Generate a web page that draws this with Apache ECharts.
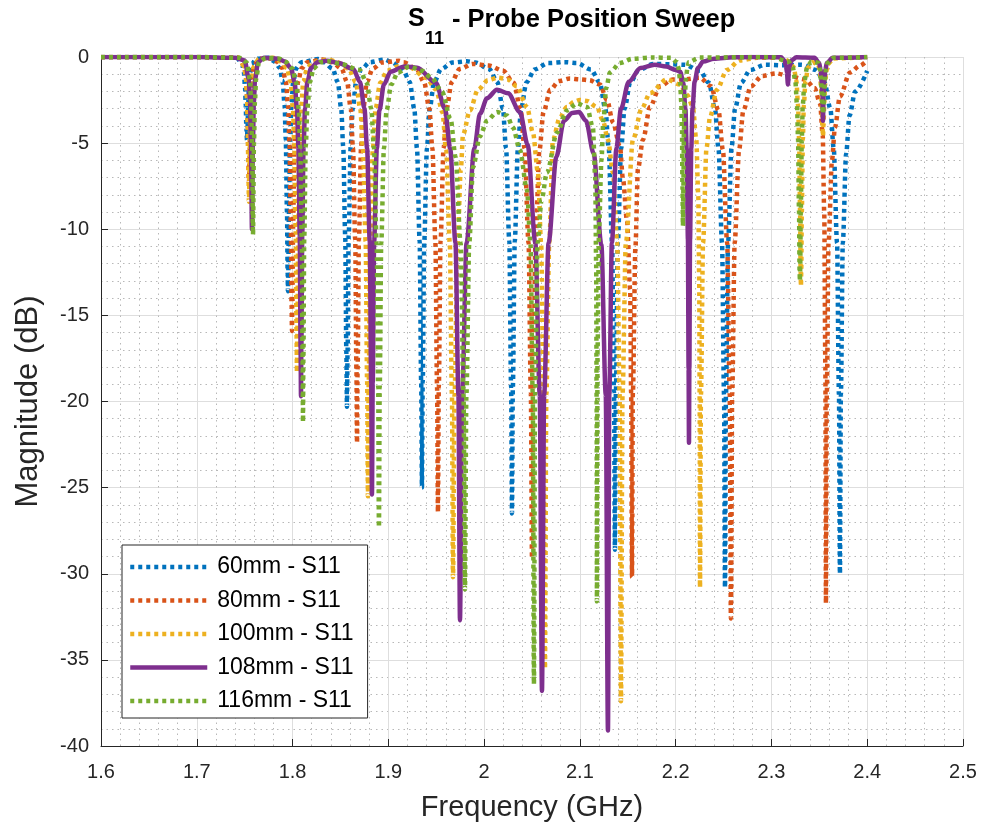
<!DOCTYPE html>
<html><head><meta charset="utf-8">
<script src="https://cdn.jsdelivr.net/npm/echarts/dist/echarts.min.js"></script>
<style>html,body{margin:0;padding:0;background:#fff}#c{width:986px;height:832px}</style>
</head><body><div id="c"></div>
<script>
const seriesNames = ['60mm - S11','80mm - S11','100mm - S11','108mm - S11','116mm - S11'];
const seriesColors = ['#0072BD','#D95319','#EDB120','#7E2F8E','#77AC30'];

const s60 = [[1.6,0],[1.7,0],[1.742,-0.05],
[1.7474,-0.42],[1.7492,-0.9],[1.7504,-1.77],[1.7511,-2.76],[1.7518,-4.1],[1.7524,-4.8],[1.753,-4.1],[1.7537,-2.76],[1.7544,-1.77],[1.7556,-0.9],[1.7574,-0.42],[1.762,-0.1],[1.775,-0.05],
[1.7812,-0.26],[1.7865,-0.62],[1.7896,-1.37],[1.7917,-2.8],[1.7929,-4.8],[1.7942,-9.0],[1.7949,-12.6],[1.7952,-13.6],[1.7955,-12.6],[1.7962,-9.0],[1.7975,-4.8],[1.7987,-2.8],[1.8008,-1.4],[1.8039,-0.65],[1.8092,-0.3],
[1.8266,-0.12],
[1.8328,-0.3],[1.8418,-0.68],[1.8472,-1.45],[1.8508,-3.0],[1.8529,-5.2],[1.855,-10.4],[1.8562,-17.2],[1.8568,-20.3],[1.8574,-17.2],[1.8586,-10.4],[1.8607,-5.2],[1.8628,-3.0],[1.8664,-1.45],[1.8718,-0.7],[1.8808,-0.3],
[1.8965,-0.15],
[1.9031,-0.3],[1.9151,-0.7],[1.9223,-1.45],[1.9271,-3.0],[1.9299,-5.3],[1.9327,-10.7],[1.9343,-18.9],[1.9351,-25.0],[1.9359,-18.9],[1.9375,-10.7],[1.9403,-5.3],[1.9431,-3.0],[1.9479,-1.45],[1.9551,-0.7],[1.9671,-0.32],
[1.982,-0.25],
[1.9911,-0.32],[2.0054,-0.7],[2.0139,-1.47],[2.0196,-3.0],[2.0229,-5.3],[2.0263,-10.7],[2.0282,-19.2],[2.0291,-26.5],[2.03,-19.2],[2.032,-10.7],[2.0353,-5.3],[2.0386,-3.0],[2.0443,-1.47],[2.0529,-0.72],[2.0671,-0.35],
[2.0844,-0.3],
[2.0966,-0.35],[2.1116,-0.72],[2.1206,-1.47],[2.1266,-3.0],[2.1301,-5.3],[2.1336,-10.8],[2.1356,-19.4],[2.1366,-28.6],[2.1376,-19.4],[2.1396,-10.8],[2.1431,-5.3],[2.1466,-3.0],[2.1526,-1.47],[2.1616,-0.75],[2.1766,-0.4],
[2.196,-0.42],
[2.2095,-0.45],[2.2253,-0.8],[2.2347,-1.5],[2.241,-3.0],[2.2447,-5.3],[2.2484,-10.8],[2.2505,-19.6],[2.2515,-30.8],[2.2525,-19.6],[2.2547,-10.8],[2.2583,-5.3],[2.262,-3.0],[2.2683,-1.5],[2.2778,-0.75],[2.2935,-0.45],
[2.312,-0.48],
[2.3315,-0.45],[2.3465,-0.75],[2.3555,-1.5],[2.3615,-3.0],[2.365,-5.3],[2.3685,-10.8],[2.3705,-19.6],[2.3715,-30.0],[2.3725,-19.6],[2.3745,-10.8],[2.378,-5.6],[2.3815,-3.4],[2.3875,-2.0],[2.4,-0.8]];

const s80 = [[1.6,0],[1.7,0],[1.744,-0.05],
[1.7495,-0.52],[1.7513,-1.13],[1.7525,-2.27],[1.7532,-3.69],[1.7539,-5.97],[1.7545,-7.3],[1.7551,-5.97],[1.7558,-3.69],[1.7565,-2.27],[1.7577,-1.13],[1.7595,-0.52],[1.765,-0.1],[1.778,-0.08],
[1.7834,-0.26],[1.7894,-0.64],[1.793,-1.43],[1.7954,-2.9],[1.7968,-5.1],[1.7982,-9.7],[1.799,-14.5],[1.7994,-15.9],[1.7998,-14.5],[1.8006,-9.7],[1.802,-5.1],[1.8034,-2.9],[1.8058,-1.43],[1.8094,-0.66],[1.8154,-0.3],
[1.831,-0.15],
[1.8413,-0.3],[1.8511,-0.66],[1.8569,-1.45],[1.8608,-3.0],[1.8631,-5.3],[1.8654,-10.6],[1.8667,-18.1],[1.8673,-22.4],[1.8679,-18.1],[1.8693,-10.6],[1.8715,-5.3],[1.8738,-3.0],[1.8777,-1.45],[1.8836,-0.68],[1.8933,-0.32],
[1.911,-0.22],
[1.9158,-0.3],[1.9293,-0.68],[1.9374,-1.47],[1.9428,-3.0],[1.946,-5.3],[1.9491,-10.7],[1.9509,-19.2],[1.9518,-26.4],[1.9527,-19.2],[1.9545,-10.7],[1.9577,-5.3],[1.9608,-3.0],[1.9662,-1.47],[1.9743,-0.7],
[1.988,-0.4],
[2.005,-0.5],[2.02,-0.8],[2.0308,-1.5],[2.038,-3.0],[2.0422,-5.3],[2.0464,-10.8],[2.0488,-19.5],[2.05,-29.1],[2.0512,-19.5],[2.0536,-10.8],[2.0578,-5.4],[2.062,-3.2],[2.0692,-1.9],[2.078,-1.4],
[2.0896,-1.25],[2.1,-1.3],
[2.11,-1.35],[2.121,-1.6],[2.1283,-2.5],[2.1346,-3.8],[2.1418,-5.2],[2.145,-7.1],[2.1492,-9.5],[2.1525,-13.5],[2.1535,-19.5],[2.1544,-30.2],[2.1553,-19.5],[2.158,-11],[2.1606,-6.5],[2.1659,-4.8],[2.1732,-2.9],[2.1836,-1.7],
[2.197,-1.3],[2.21,-1.3],
[2.2252,-1.2],[2.2369,-1.7],[2.2447,-3.1],[2.2493,-5.4],[2.2538,-10.8],[2.2564,-19.6],[2.2577,-32.6],[2.259,-19.6],[2.2616,-10.8],[2.2662,-5.4],[2.2707,-3.1],[2.2785,-1.7],[2.2902,-1.1],
[2.305,-0.95],[2.318,-1.1],
[2.335,-1.3],[2.345,-1.8],[2.3508,-2.7],[2.3535,-4.5],[2.3551,-9],[2.3563,-18],[2.3569,-31.7],[2.3578,-19.5],[2.3596,-10.8],[2.3632,-6],[2.3663,-4.1],[2.3715,-2.3],[2.382,-0.9],[2.3924,-0.5],[2.4,-0.2]];

const s100 = [[1.6,0],[1.7,0],[1.744,-0.05],
[1.7495,-0.55],[1.7513,-1.19],[1.7525,-2.42],[1.7532,-3.99],[1.7539,-6.68],[1.7545,-8.4],[1.7551,-6.68],[1.7558,-3.99],[1.7565,-2.42],[1.7577,-1.19],[1.7595,-0.55],[1.765,-0.1],[1.78,-0.05],
[1.7878,-0.26],[1.7941,-0.64],[1.7979,-1.43],[1.8004,-3.0],[1.8019,-5.2],[1.8033,-10.2],[1.8042,-16.1],[1.8046,-18.3],[1.805,-16.1],[1.8059,-10.2],[1.8073,-5.2],[1.8088,-3.0],[1.8113,-1.43],[1.8151,-0.66],[1.8214,-0.3],
[1.838,-0.15],
[1.8467,-0.3],[1.8587,-0.68],[1.8659,-1.45],[1.8707,-3.0],[1.8735,-5.3],[1.8763,-10.7],[1.8779,-18.9],[1.8787,-25.5],[1.8795,-18.9],[1.8811,-10.7],[1.8839,-5.3],[1.8867,-3.0],[1.8915,-1.5],[1.8987,-0.8],[1.91,-0.55],
[1.922,-0.6],
[1.9395,-1.2],[1.9499,-1.9],[1.9565,-3.2],[1.9603,-5.4],[1.9642,-10.8],[1.9664,-19.6],[1.9675,-30.2],[1.9691,-19.6],[1.9723,-10.8],[1.9757,-6.5],[1.978,-4.5],[1.9852,-3.1],[1.9936,-1.9],[2.004,-1.35],
[2.0145,-1.2],
[2.0245,-1.3],[2.0343,-1.7],[2.0447,-2.9],[2.051,-4.4],[2.0562,-6.7],[2.0595,-10.8],[2.062,-19.6],[2.0635,-35.5],[2.065,-19.6],[2.068,-10.8],[2.0718,-4.8],[2.0792,-3.5],[2.0865,-2.9],[2.094,-2.6],
[2.1,-2.5],
[2.1074,-2.55],[2.1178,-2.9],[2.1241,-3.7],[2.1293,-4.8],[2.1345,-6.7],[2.139,-10.8],[2.1415,-19.6],[2.1429,-37.4],[2.1445,-19.6],[2.148,-10.8],[2.1554,-4.8],[2.1645,-3.0],[2.1732,-2.1],
[2.1909,-1.3],
[2.2045,-1.6],[2.212,-2.2],[2.218,-2.9],[2.2215,-4.8],[2.2236,-8],[2.2246,-13],[2.2251,-20],[2.2254,-30.8],[2.2264,-19.6],[2.2286,-10.8],[2.2322,-5.3],[2.2358,-3.5],[2.2431,-1.9],[2.2535,-0.75],[2.2671,-0.2],[2.285,-0.05],[2.31,-0.05],
[2.3188,-0.26],[2.3233,-0.6],[2.326,-1.37],[2.3278,-2.8],[2.3289,-4.8],[2.3299,-9.0],[2.3305,-12.5],[2.3308,-13.3],[2.3311,-12.5],[2.3317,-9.0],[2.3328,-4.8],[2.3338,-2.8],[2.3356,-1.37],[2.3383,-0.6],[2.3428,-0.3],
[2.3488,-0.41],[2.3506,-0.88],[2.3518,-1.72],[2.3525,-2.67],[2.3532,-3.97],[2.3538,-4.6],[2.3544,-3.97],[2.3551,-2.67],[2.3558,-1.72],[2.357,-0.88],[2.3588,-0.41],[2.365,-0.08],[2.4,0]];

const s108 = [[1.6,0],[1.7,0],[1.74,-0.05],[1.75,-0.2],
[1.7544,-1.3],[1.7556,-2.6],[1.7566,-5],[1.7576,-10],[1.7586,-5],[1.7596,-2.6],[1.7608,-1.3],[1.764,-0.3],[1.77,-0.05],
[1.785,-0.1],[1.792,-0.26],[1.7983,-0.64],[1.8021,-1.43],[1.8046,-3.0],[1.8061,-5.2],[1.8075,-10.3],[1.8084,-16.9],[1.8088,-19.7],[1.8092,-16.9],[1.8101,-10.3],[1.8115,-5.2],[1.813,-3.0],[1.8155,-1.43],[1.8193,-0.64],
[1.826,-0.3],[1.836,-0.22],[1.848,-0.35],
[1.8634,-0.7],[1.8704,-1.45],[1.8751,-3.0],[1.8778,-5.3],[1.8806,-10.7],[1.8821,-18.9],[1.8829,-25.4],[1.8837,-18.9],[1.8852,-10.7],[1.888,-5.3],[1.8907,-3.1],[1.8954,-1.6],[1.9024,-0.85],
[1.917,-0.55],[1.93,-0.62],
[1.9497,-1.5],[1.9591,-3.0],[1.9646,-5.3],[1.9701,-10.8],[1.9732,-19.6],[1.9748,-32.7],[1.9771,-19.6],[1.9817,-10.8],[1.9898,-5.3],[1.9957,-3.3],
[2.003,-2.4],[2.0134,-1.9],[2.025,-2.1],
[2.0374,-3.2],[2.0455,-5.1],[2.0535,-10.8],[2.0581,-19.6],[2.0604,-36.8],[2.0627,-19.6],[2.0673,-10.8],[2.0754,-5.8],[2.0834,-3.7],
[2.092,-3.25],[2.099,-3.2],[2.1063,-3.7],
[2.1144,-5.6],[2.1224,-10.9],[2.127,-19.6],[2.1293,-39.1],[2.1307,-19.6],[2.1334,-10.8],[2.1381,-5.3],[2.1429,-3.0],[2.1511,-1.43],[2.1633,-0.64],
[2.178,-0.45],[2.19,-0.55],[2.2,-0.75],
[2.2047,-0.85],[2.208,-1.5],[2.2102,-3.0],[2.2115,-5.3],[2.2128,-10.6],[2.2135,-18.1],[2.2139,-22.4],[2.2143,-18.1],[2.215,-10.6],[2.2163,-5.3],[2.2176,-3.0],[2.2198,-1.43],[2.2232,-0.64],[2.2287,-0.26],[2.24,-0.1],[2.26,-0.02],
[2.28,0],[2.31,-0.02],
[2.3135,-0.2],[2.3152,-0.5],[2.3162,-0.9],[2.3172,-1.6],[2.3182,-0.9],[2.3192,-0.5],[2.3209,-0.2],[2.326,-0.02],
[2.345,-0.05],
[2.3498,-0.35],[2.3514,-0.76],[2.3525,-1.5],[2.3532,-2.3],[2.3538,-3.7],[2.3544,-2.3],[2.3551,-1.5],[2.3562,-0.76],[2.3578,-0.35],[2.364,-0.05],[2.4,0]];

const s116 = [[1.6,0],[1.7,0],[1.745,-0.05],[1.752,-0.3],
[1.7555,-1.3],[1.7567,-2.6],[1.7577,-5],[1.7587,-10.3],[1.7597,-5],[1.7607,-2.6],[1.7619,-1.3],[1.765,-0.3],[1.772,-0.05],[1.785,-0.08],
[1.7929,-0.28],[1.7997,-0.66],[1.8037,-1.45],[1.8064,-3.0],[1.808,-5.2],[1.8096,-10.5],[1.8105,-17.5],[1.8109,-21.2],[1.8113,-17.5],[1.8122,-10.5],[1.8138,-5.2],[1.8154,-3.0],[1.8181,-1.45],[1.8221,-0.66],[1.829,-0.3],
[1.838,-0.25],[1.85,-0.4],
[1.8702,-0.75],[1.8774,-1.5],[1.8822,-3.0],[1.885,-5.3],[1.8878,-10.8],[1.8894,-19.2],[1.8902,-27.3],[1.891,-19.2],[1.8926,-10.8],[1.8954,-5.3],[1.8982,-3.1],[1.903,-1.6],[1.91,-0.9],
[1.922,-0.55],[1.935,-0.8],
[1.945,-1.2],[1.956,-2.0],[1.965,-3.6],[1.9702,-5.8],[1.9755,-10.8],[1.9785,-19.6],[1.98,-30.9],[1.9815,-19.6],[1.9845,-10.8],[1.9884,-6.4],[1.9957,-4.6],[2.003,-3.7],
[2.0134,-3.2],
[2.0239,-3.4],[2.0301,-4.1],[2.0374,-5.4],[2.0447,-7.7],[2.0484,-10.8],[2.0508,-19.6],[2.052,-36.4],[2.0532,-19.6],[2.0558,-10.8],[2.06,-8.3],[2.0656,-6.7],[2.0761,-4.4],[2.0865,-3.1],
[2.097,-2.7],
[2.1074,-2.9],[2.1136,-4.1],[2.116,-7],[2.117,-12],[2.1175,-20],[2.1178,-31.6],[2.1184,-17],[2.12,-10],[2.1225,-6],[2.1245,-3.7],[2.1275,-1.8],[2.1314,-0.9],[2.1418,-0.35],[2.155,-0.1],[2.175,-0.03],[2.195,-0.05],
[2.2016,-0.3],[2.2028,-0.6],[2.2046,-1.3],[2.2058,-2.6],[2.2066,-4.3],[2.2071,-7.5],[2.2076,-9.8],[2.2081,-7.5],[2.2086,-4.3],[2.2094,-2.6],[2.2106,-1.3],[2.2124,-0.6],[2.2136,-0.3],[2.225,-0.03],[2.3,0],
[2.3177,-0.26],[2.3222,-0.6],[2.3249,-1.37],[2.3267,-2.8],[2.3278,-4.8],[2.3288,-9.0],[2.3294,-12.4],[2.3297,-13.0],[2.33,-12.4],[2.3306,-9.0],[2.3317,-4.8],[2.3327,-2.8],[2.3345,-1.37],[2.3372,-0.6],[2.3417,-0.26],
[2.3488,-0.33],[2.3506,-0.7],[2.3518,-1.34],[2.3525,-2.03],[2.3532,-2.9],[2.3538,-3.3],[2.3544,-2.9],[2.3551,-2.03],[2.3558,-1.34],[2.357,-0.7],[2.3588,-0.33],[2.365,-0.05],[2.4,0]];

const seriesData = [s60, s80, s100, s108, s116];
const solid = [false, false, false, true, false];

const narrow = '"Liberation Sans Narrow", "Arial Narrow", "Liberation Sans", Arial, sans-serif';
const regular = '"Liberation Sans", Arial, Helvetica, sans-serif';

const chart = echarts.init(document.getElementById('c'), null, {renderer: 'canvas'});
const option = {
  animation: false,
  backgroundColor: '#ffffff',
  grid: {left: 101, right: 23, top: 57, bottom: 86, containLabel: false},
  xAxis: {
    type: 'value', min: 1.6, max: 2.5, interval: 0.1,
    name: 'Frequency (GHz)', nameLocation: 'middle', nameGap: 47,
    nameTextStyle: {fontFamily: narrow, fontSize: 29, color: '#262626'},
    axisLine: {onZero: false, lineStyle: {color: '#262626', width: 1}},
    axisTick: {inside: true, length: 7, lineStyle: {color: '#262626'}},
    axisLabel: {margin: 16, color: '#262626', fontSize: 20, fontFamily: narrow,
      formatter: v => String(Math.round(v * 10) / 10)},
    splitLine: {show: true, lineStyle: {color: '#dedede', width: 1}},
    minorTick: {show: false, splitNumber: 5},
    minorSplitLine: {show: true, lineStyle: {color: '#b8b8b8', width: 1, type: [1.5, 4]}}
  },
  yAxis: {
    type: 'value', min: -40, max: 0, interval: 5,
    name: 'Magnitude (dB)', nameLocation: 'middle', nameGap: 57, nameRotate: 90,
    nameTextStyle: {fontFamily: narrow, fontSize: 31, color: '#262626'},
    axisLine: {show: true, onZero: false, lineStyle: {color: '#262626', width: 1}},
    axisTick: {show: true, inside: true, length: 7, lineStyle: {color: '#262626'}},
    axisLabel: {margin: 12, color: '#262626', fontSize: 20, fontFamily: narrow,
      formatter: v => String(v)},
    splitLine: {show: true, lineStyle: {color: '#dedede', width: 1}},
    minorTick: {show: false, splitNumber: 5},
    minorSplitLine: {show: true, lineStyle: {color: '#b8b8b8', width: 1, type: [1.5, 4]}}
  },
  legend: {
    orient: 'vertical', left: 122, top: 545,
    backgroundColor: '#ffffff', borderColor: '#262626', borderWidth: 1,
    padding: [10, 14, 5, 6], itemWidth: 77, itemHeight: 14, itemGap: 9.5,
    itemStyle: {opacity: 0, borderWidth: 0},
    lineStyle: {width: 4.5},
    textStyle: {fontFamily: regular, fontSize: 23, lineHeight: 24, color: '#000', padding: [0, 0, 0, 5]},
    data: seriesNames
  },
  graphic: [
    {type: 'text', left: 408, top: 7, style: {text: 'S', font: 'bold 25px ' + narrow, fill: '#000'}},
    {type: 'text', left: 425, top: 30, style: {text: '11', font: 'bold 18px ' + narrow, fill: '#000'}},
    {type: 'text', left: 452, top: 7, style: {text: '- Probe Position Sweep', font: 'bold 25.5px ' + narrow, fill: '#000'}}
  ],
  series: seriesData.map((d, i) => ({
    name: seriesNames[i], type: 'line', data: d,
    symbol: 'none', showSymbol: false, smooth: 0.3, smoothMonotone: 'x',
    lineStyle: {color: seriesColors[i], width: 4.5, type: solid[i] ? 'solid' : [4, 4], cap: 'butt'},
    itemStyle: {color: seriesColors[i]},
    emphasis: {disabled: true}
  }))
};
chart.setOption(option);
</script></body></html>
